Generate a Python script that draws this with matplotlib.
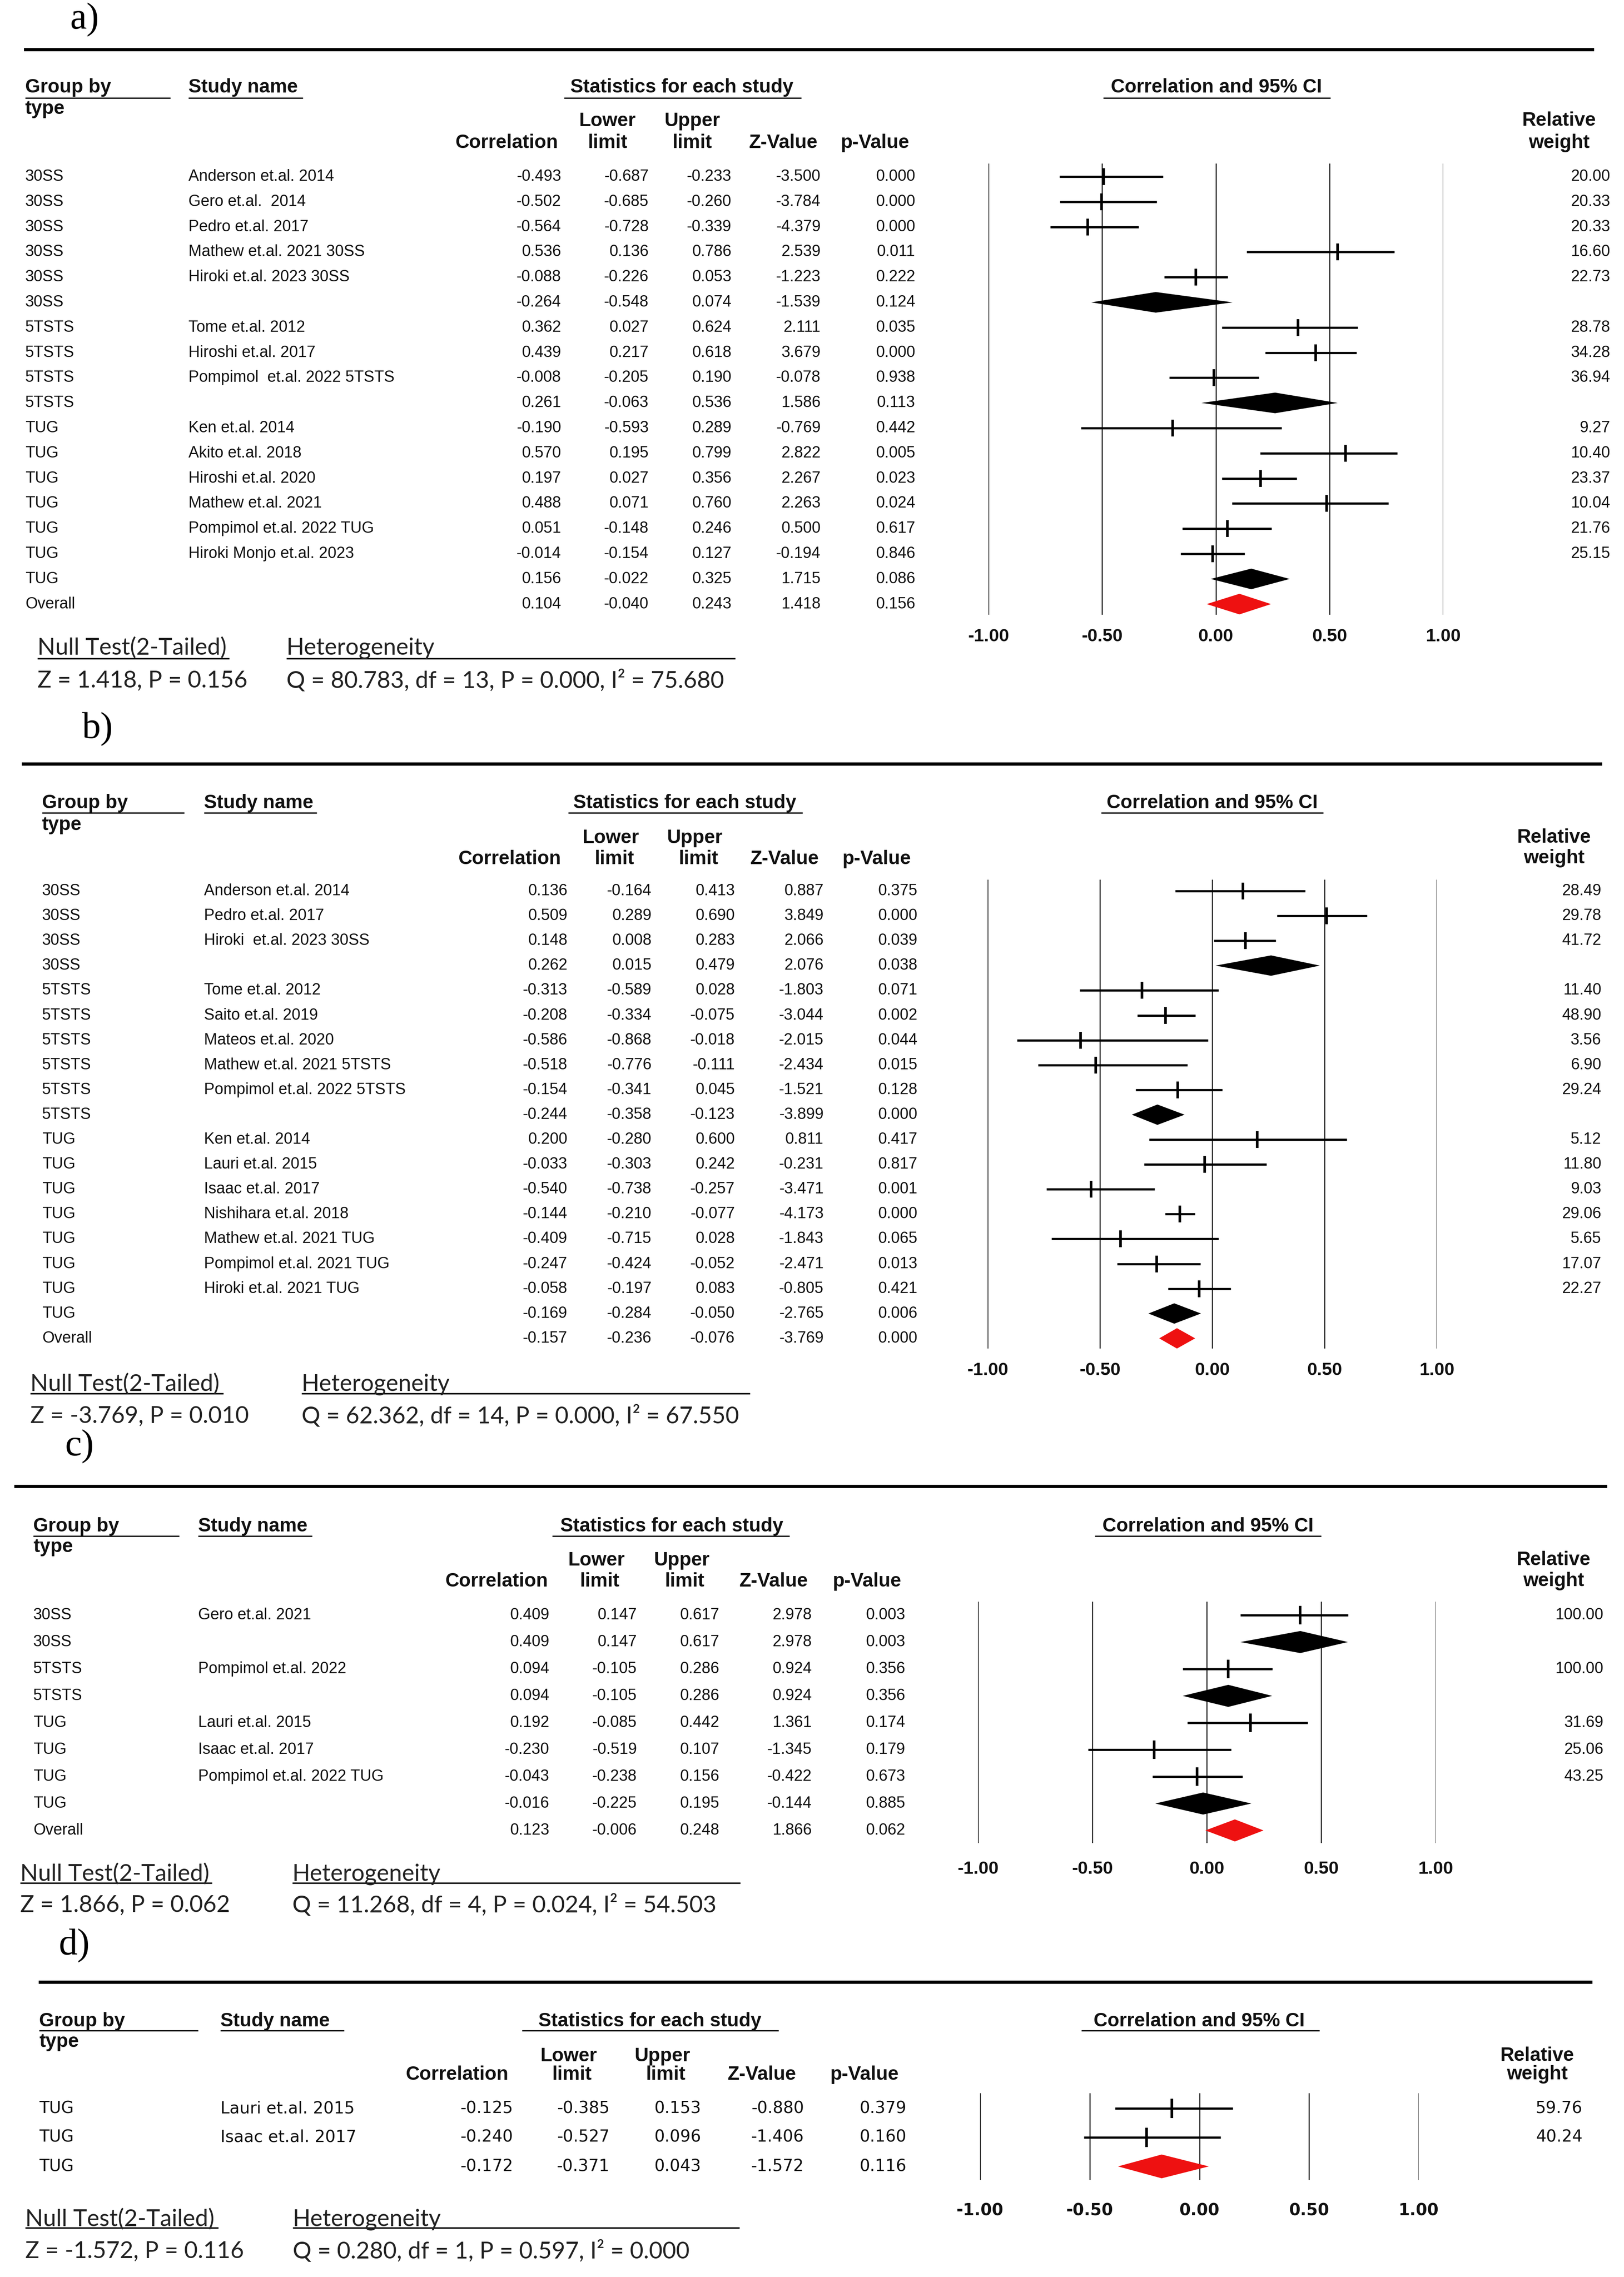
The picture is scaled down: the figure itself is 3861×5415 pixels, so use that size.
import matplotlib
matplotlib.use('Agg')
import matplotlib.pyplot as plt

W, H = 3861, 5415

# ---------------- data: panel a ----------------
groups_a = ['30SS'] * 6 + ['5TSTS'] * 4 + ['TUG'] * 7 + ['Overall']
studies_a = ['Anderson et.al. 2014', 'Gero et.al.  2014', 'Pedro et.al. 2017',
             'Mathew et.al. 2021 30SS', 'Hiroki et.al. 2023 30SS', '',
             'Tome et.al. 2012', 'Hiroshi et.al. 2017', 'Pompimol  et.al. 2022 5TSTS', '',
             'Ken et.al. 2014', 'Akito et.al. 2018', 'Hiroshi et.al. 2020', 'Mathew et.al. 2021',
             'Pompimol et.al. 2022 TUG', 'Hiroki Monjo et.al. 2023', '', '']
corr_a = [-0.493, -0.502, -0.564, 0.536, -0.088, -0.264, 0.362, 0.439, -0.008, 0.261,
          -0.190, 0.570, 0.197, 0.488, 0.051, -0.014, 0.156, 0.104]
lower_a = [-0.687, -0.685, -0.728, 0.136, -0.226, -0.548, 0.027, 0.217, -0.205, -0.063,
           -0.593, 0.195, 0.027, 0.071, -0.148, -0.154, -0.022, -0.040]
upper_a = [-0.233, -0.260, -0.339, 0.786, 0.053, 0.074, 0.624, 0.618, 0.190, 0.536,
           0.289, 0.799, 0.356, 0.760, 0.246, 0.127, 0.325, 0.243]
z_a = [-3.500, -3.784, -4.379, 2.539, -1.223, -1.539, 2.111, 3.679, -0.078, 1.586,
       -0.769, 2.822, 2.267, 2.263, 0.500, -0.194, 1.715, 1.418]
p_a = [0.000, 0.000, 0.000, 0.011, 0.222, 0.124, 0.035, 0.000, 0.938, 0.113,
       0.442, 0.005, 0.023, 0.024, 0.617, 0.846, 0.086, 0.156]
weight_a = [20.00, 20.33, 20.33, 16.60, 22.73, None, 28.78, 34.28, 36.94, None,
            9.27, 10.40, 23.37, 10.04, 21.76, 25.15, None, None]
null_a = 'Z = 1.418, P = 0.156'
het_a = 'Q = 80.783, df = 13, P = 0.000, I² = 75.680'

# ---------------- data: panel b ----------------
groups_b = ['30SS'] * 4 + ['5TSTS'] * 6 + ['TUG'] * 8 + ['Overall']
studies_b = ['Anderson et.al. 2014', 'Pedro et.al. 2017', 'Hiroki  et.al. 2023 30SS', '',
             'Tome et.al. 2012', 'Saito et.al. 2019', 'Mateos et.al. 2020',
             'Mathew et.al. 2021 5TSTS', 'Pompimol et.al. 2022 5TSTS', '',
             'Ken et.al. 2014', 'Lauri et.al. 2015', 'Isaac et.al. 2017', 'Nishihara et.al. 2018',
             'Mathew et.al. 2021 TUG', 'Pompimol et.al. 2021 TUG', 'Hiroki et.al. 2021 TUG', '', '']
corr_b = [0.136, 0.509, 0.148, 0.262, -0.313, -0.208, -0.586, -0.518, -0.154, -0.244,
          0.200, -0.033, -0.540, -0.144, -0.409, -0.247, -0.058, -0.169, -0.157]
lower_b = [-0.164, 0.289, 0.008, 0.015, -0.589, -0.334, -0.868, -0.776, -0.341, -0.358,
           -0.280, -0.303, -0.738, -0.210, -0.715, -0.424, -0.197, -0.284, -0.236]
upper_b = [0.413, 0.690, 0.283, 0.479, 0.028, -0.075, -0.018, -0.111, 0.045, -0.123,
           0.600, 0.242, -0.257, -0.077, 0.028, -0.052, 0.083, -0.050, -0.076]
z_b = [0.887, 3.849, 2.066, 2.076, -1.803, -3.044, -2.015, -2.434, -1.521, -3.899,
       0.811, -0.231, -3.471, -4.173, -1.843, -2.471, -0.805, -2.765, -3.769]
p_b = [0.375, 0.000, 0.039, 0.038, 0.071, 0.002, 0.044, 0.015, 0.128, 0.000,
       0.417, 0.817, 0.001, 0.000, 0.065, 0.013, 0.421, 0.006, 0.000]
weight_b = [28.49, 29.78, 41.72, None, 11.40, 48.90, 3.56, 6.90, 29.24, None,
            5.12, 11.80, 9.03, 29.06, 5.65, 17.07, 22.27, None, None]
null_b = 'Z = -3.769, P = 0.010'
het_b = 'Q = 62.362, df = 14, P = 0.000, I² = 67.550'

# ---------------- data: panel c ----------------
groups_c = ['30SS', '30SS', '5TSTS', '5TSTS', 'TUG', 'TUG', 'TUG', 'TUG', 'Overall']
studies_c = ['Gero et.al. 2021', '', 'Pompimol et.al. 2022', '', 'Lauri et.al. 2015',
             'Isaac et.al. 2017', 'Pompimol et.al. 2022 TUG', '', '']
corr_c = [0.409, 0.409, 0.094, 0.094, 0.192, -0.230, -0.043, -0.016, 0.123]
lower_c = [0.147, 0.147, -0.105, -0.105, -0.085, -0.519, -0.238, -0.225, -0.006]
upper_c = [0.617, 0.617, 0.286, 0.286, 0.442, 0.107, 0.156, 0.195, 0.248]
z_c = [2.978, 2.978, 0.924, 0.924, 1.361, -1.345, -0.422, -0.144, 1.866]
p_c = [0.003, 0.003, 0.356, 0.356, 0.174, 0.179, 0.673, 0.885, 0.062]
weight_c = [100.00, None, 100.00, None, 31.69, 25.06, 43.25, None, None]
null_c = 'Z = 1.866, P = 0.062'
het_c = 'Q = 11.268, df = 4, P = 0.024, I² = 54.503'

# ---------------- data: panel d ----------------
groups_d = ['TUG', 'TUG', 'TUG']
studies_d = ['Lauri et.al. 2015', 'Isaac et.al. 2017', '']
corr_d = [-0.125, -0.240, -0.172]
lower_d = [-0.385, -0.527, -0.371]
upper_d = [0.153, 0.096, 0.043]
z_d = [-0.880, -1.406, -1.572]
p_d = [0.379, 0.160, 0.116]
weight_d = [59.76, 40.24, None]
null_d = 'Z = -1.572, P = 0.116'
het_d = 'Q = 0.280, df = 1, P = 0.597, I² = 0.000'

ticks = [-1.0, -0.5, 0.0, 0.5, 1.0]

# layout of each panel, in pixels of the output image
lay_a = dict(label='a)', lab=(167, 47), line=(57, 3790, 118),
             hy=208, uy=233, gx=60, gu=405, sx=448, su=720, stc=1621, stu=(1341, 1905),
             ty=259, lly=288, lx=1444, ux=1646, limy=340, corr_r=1327, lim1=1445, lim2=1646,
             zc=1862, pc=2081, cic=2892, ciu=(2623, 3163), relc=3707, rely=287, wy=340,
             row0=420, dy=59.8, cols=[1334, 1542, 1739, 1951, 2176], wr=3828,
             fx=(2350, 3431), fy=(389, 1462), tky=1510,
             nx=89, ny=1541, nuy=1566, nu=545, hx=681, hu=1748, vy=1619)
lay_b = dict(label='b)', lab=(195, 1734), line=(52, 3809, 1817),
             hy=1910, uy=1933, gx=100, gu=438, sx=485, su=753, stc=1628, stu=(1351, 1908),
             ty=1962, lly=1993, lx=1452, ux=1652, limy=2043, corr_r=1334, lim1=1461, lim2=1661,
             zc=1865, pc=2085, cic=2882, ciu=(2618, 3146), relc=3695, rely=1992, wy=2041,
             row0=2119, dy=59.1, cols=[1349, 1549, 1747, 1958, 2181], wr=3807,
             fx=(2348, 3416), fy=(2092, 3207), tky=3255,
             nx=72, ny=3292, nuy=3314, nu=531, hx=717, hu=1783, vy=3368)
lay_c = dict(label='c)', lab=(155, 3440), line=(34, 3821, 3535),
             hy=3630, uy=3653, gx=79, gu=426, sx=471, su=742, stc=1597, stu=(1313, 1877),
             ty=3679, lly=3711, lx=1418, ux=1621, limy=3761, corr_r=1303, lim1=1426, lim2=1628,
             zc=1839, pc=2062, cic=2872, ciu=(2603, 3141), relc=3694, rely=3710, wy=3760,
             row0=3841, dy=64.0, cols=[1306, 1514, 1710, 1930, 2152], wr=3812,
             fx=(2325, 3413), fy=(3809, 4383), tky=4441,
             nx=48, ny=4457, nuy=4478, nu=504, hx=695, hu=1760, vy=4531)
lay_d = dict(label='d)', lab=(140, 4627), line=(92, 3786, 4714),
             hy=4807, uy=4829, gx=93, gu=471, sx=524, su=818, stc=1545, stu=(1241, 1851),
             ty=4856, lly=4890, lx=1352, ux=1575, limy=4934, corr_r=1209, lim1=1360, lim2=1583,
             zc=1811, pc=2056, cic=2851, ciu=(2571, 3137), relc=3655, rely=4889, wy=4933,
             row0=5014, dy=69.0, cols=[1220, 1449, 1667, 1911, 2155], wr=3762,
             fx=(2330, 3373), fy=(4978, 5184), tky=5253,
             nx=60, ny=5278, nuy=5298, nu=519, hx=696, hu=1758, vy=5354)

SANS = ['Liberation Sans', 'DejaVu Sans']
WIDE = ['DejaVu Sans']
CAL = ['Lato', 'DejaVu Sans']
SERIF = ['Liberation Serif', 'DejaVu Serif']
INK = '#111111'
HS = 33  # header size

fig = plt.figure(figsize=(W / 100, H / 100), dpi=100)
bg = fig.add_axes([0, 0, 1, 1])
bg.set_xlim(0, W)
bg.set_ylim(H, 0)
bg.axis('off')


def hline(x0, x1, y, lw):
    bg.plot([x0, x1], [y, y], color='black', lw=lw, solid_capstyle='butt')


def draw_panel(lay, groups, studies, corr, lower, upper, zval, pval, weight, null_txt, het_txt,
               vfont=SANS, vsize=27, tfont=SANS, tsize=31):
    # panel label and separator
    bg.text(lay['lab'][0], lay['lab'][1], lay['label'], family=SERIF, size=64,
            ha='left', va='center', color='black')
    hline(lay['line'][0], lay['line'][1], lay['line'][2], 5.5)

    # table headers
    hy = lay['hy']
    hd = dict(family=SANS, size=HS, weight='bold', color=INK, va='center')
    bg.text(lay['gx'], hy, 'Group by', ha='left', **hd)
    hline(lay['gx'], lay['gu'], lay['uy'], 2.2)
    bg.text(lay['gx'], lay['ty'], 'type', ha='left', **hd)
    bg.text(lay['sx'], hy, 'Study name', ha='left', **hd)
    hline(lay['sx'], lay['su'], lay['uy'], 2.2)
    bg.text(lay['stc'], hy, 'Statistics for each study', ha='center', **hd)
    hline(lay['stu'][0], lay['stu'][1], lay['uy'], 2.2)
    bg.text(lay['lx'], lay['lly'], 'Lower', ha='center', **hd)
    bg.text(lay['ux'], lay['lly'], 'Upper', ha='center', **hd)
    bg.text(lay['corr_r'], lay['limy'], 'Correlation', ha='right', **hd)
    bg.text(lay['lim1'], lay['limy'], 'limit', ha='center', **hd)
    bg.text(lay['lim2'], lay['limy'], 'limit', ha='center', **hd)
    bg.text(lay['zc'], lay['limy'], 'Z-Value', ha='center', **hd)
    bg.text(lay['pc'], lay['limy'], 'p-Value', ha='center', **hd)
    bg.text(lay['cic'], hy, 'Correlation and 95% CI', ha='center', **hd)
    hline(lay['ciu'][0], lay['ciu'][1], lay['uy'], 2.2)
    bg.text(lay['relc'], lay['rely'], 'Relative', ha='center', **hd)
    bg.text(lay['relc'], lay['wy'], 'weight', ha='center', **hd)

    # table rows
    vt = dict(family=vfont, size=vsize, color=INK, va='center')
    for i in range(len(corr)):
        y = lay['row0'] + i * lay['dy']
        bg.text(lay['gx'], y, groups[i], ha='left', **vt)
        bg.text(lay['sx'], y, studies[i], ha='left', **vt)
        vals = [corr[i], lower[i], upper[i], zval[i], pval[i]]
        for xr, v in zip(lay['cols'], vals):
            bg.text(xr, y, f'{v:.3f}', ha='right', **vt)
        if weight[i] is not None:
            bg.text(lay['wr'], y, f'{weight[i]:.2f}', ha='right', **vt)

    # null test / heterogeneity block
    nt = dict(family=CAL, size=40, color='#222222', va='center', ha='left')
    bg.text(lay['nx'], lay['ny'], 'Null Test(2-Tailed)', **nt)
    hline(lay['nx'], lay['nu'], lay['nuy'], 2.5)
    bg.text(lay['hx'], lay['ny'], 'Heterogeneity', **nt)
    hline(lay['hx'], lay['hu'], lay['nuy'], 2.5)
    bg.text(lay['nx'], lay['vy'], null_txt, **nt)
    bg.text(lay['hx'], lay['vy'], het_txt, **nt)

    # forest plot
    x0, x1 = lay['fx']
    top, bot = lay['fy']
    r0, dy = lay['row0'], lay['dy']
    ax = fig.add_axes([x0 / W, 1 - bot / H, (x1 - x0) / W, (bot - top) / H])
    ax.patch.set_alpha(0)
    ax.set_xlim(-1, 1)
    ax.set_ylim((bot - r0) / dy, (top - r0) / dy)
    for s in ax.spines.values():
        s.set_visible(False)
    ax.set_yticks([])
    for v in ticks:
        ax.axvline(v, color='#1a1a1a', lw=1.8, zorder=1)

    n = len(corr)
    idx = [i for i in range(n) if studies[i]]
    ax.hlines(idx, [lower[i] for i in idx], [upper[i] for i in idx],
              color='black', lw=3.8, zorder=3, clip_on=False)
    ax.plot([corr[i] for i in idx], idx, ls='none', marker='|',
            ms=0.68 * dy * 0.72, mew=4.5, color='black', zorder=4, clip_on=False)
    hh = 0.41
    for i in range(n):
        if studies[i]:
            continue
        col = '#ee1111' if i == n - 1 else 'black'
        ax.fill([lower[i], corr[i], upper[i], corr[i]], [i, i - hh, i, i + hh],
                color=col, lw=0, zorder=3, clip_on=False)

    em = tsize * 100 / 72
    pad = (lay['tky'] - bot - 0.37 * em) * 0.72
    ax.set_xticks(ticks)
    ax.set_xticklabels([f'{v:.2f}' for v in ticks], family=tfont, size=tsize,
                       weight='bold', color=INK)
    ax.tick_params(axis='x', length=0, pad=pad)


draw_panel(lay_a, groups_a, studies_a, corr_a, lower_a, upper_a, z_a, p_a, weight_a, null_a, het_a)
draw_panel(lay_b, groups_b, studies_b, corr_b, lower_b, upper_b, z_b, p_b, weight_b, null_b, het_b)
draw_panel(lay_c, groups_c, studies_c, corr_c, lower_c, upper_c, z_c, p_c, weight_c, null_c, het_c)
draw_panel(lay_d, groups_d, studies_d, corr_d, lower_d, upper_d, z_d, p_d, weight_d, null_d, het_d,
           vfont=WIDE, vsize=28, tfont=WIDE, tsize=28)

fig.savefig('out.png', dpi=100, facecolor='white')
